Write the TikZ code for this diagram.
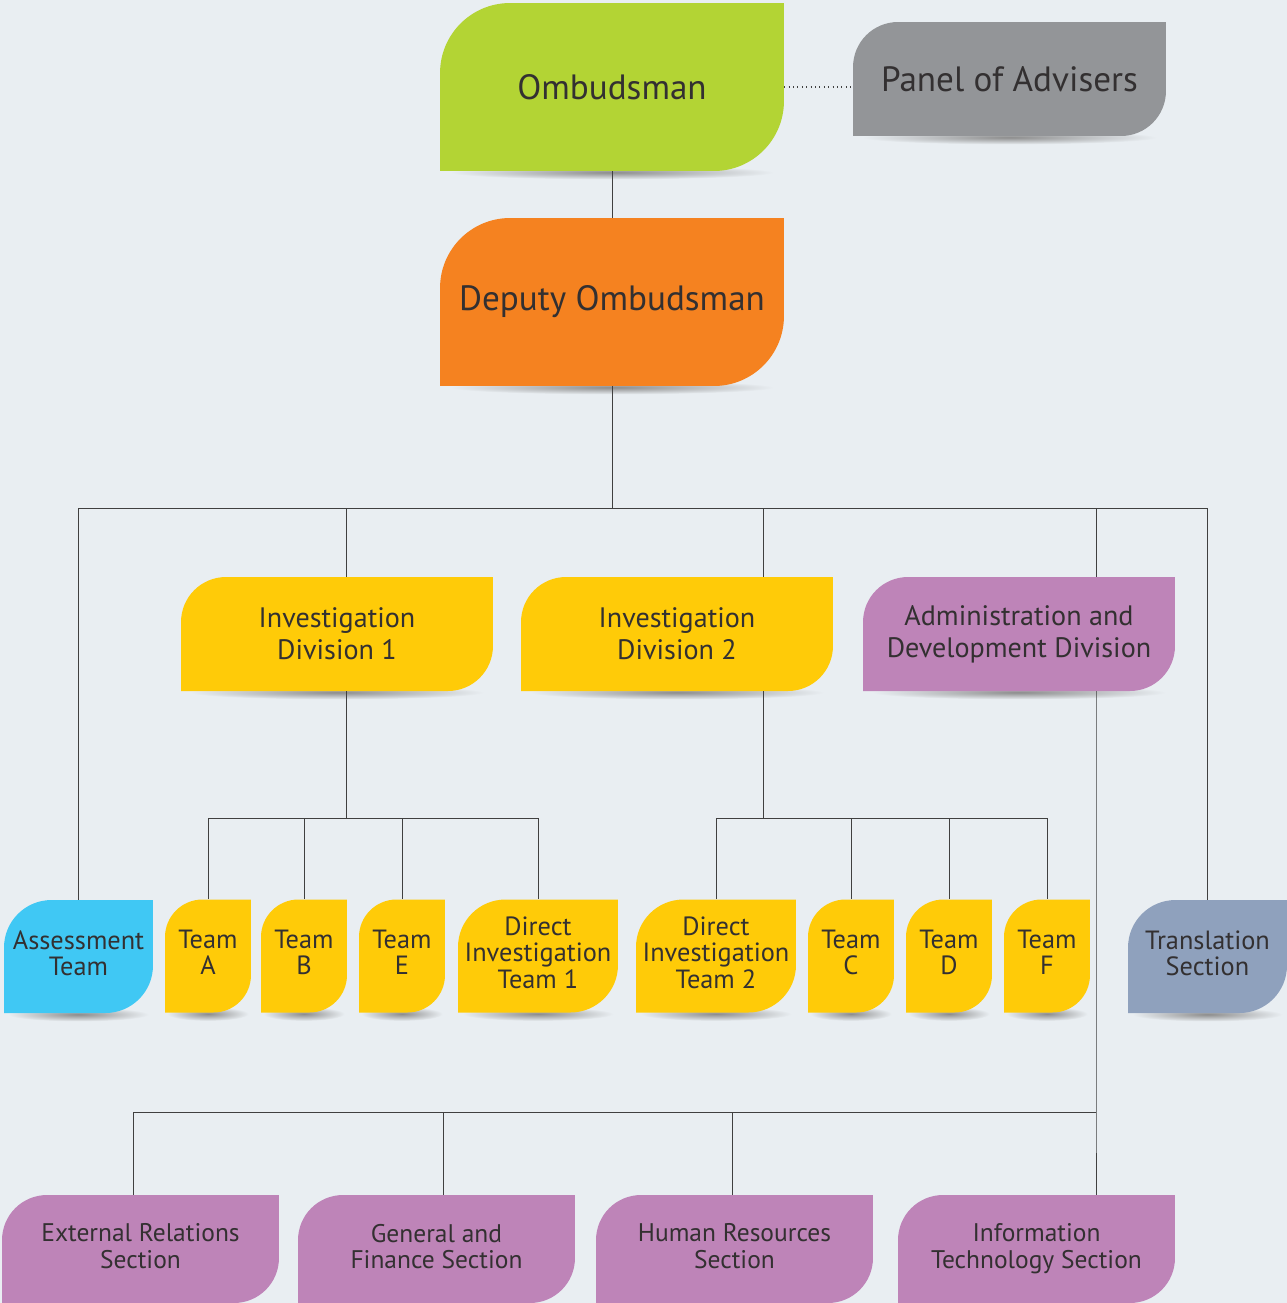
\documentclass[tikz,border=0pt]{standalone}
\usepackage{fontspec}
\setmainfont{PT Sans}
\usetikzlibrary{calc,backgrounds}

\definecolor{bgc}{HTML}{E9EEF2}
\definecolor{txt}{HTML}{333031}
\definecolor{lime}{HTML}{B3D434}
\definecolor{tang}{HTML}{F58220}
\definecolor{stone}{HTML}{939598}
\definecolor{gold}{HTML}{FFCB08}
\definecolor{mauve}{HTML}{BE84B8}
\definecolor{sky}{HTML}{40C8F4}
\definecolor{slate}{HTML}{8FA1BD}

\tikzset{
  leaf/.style 2 args={path picture={
    \fill[#1] (path picture bounding box.south west)
      -- ([yshift=-#2]path picture bounding box.north west)
      arc[start angle=180, end angle=90, radius=#2]
      -- (path picture bounding box.north east)
      -- ([yshift=#2]path picture bounding box.south east)
      arc[start angle=0, end angle=-90, radius=#2] -- cycle;}},
  box/.style={inner sep=0pt, align=center, text=txt},
  big/.style={box, leaf={#1}{1.4cm}, minimum width=6.88cm, minimum height=3.36cm,
    font=\fontsize{20}{24}\selectfont},
  panel/.style={box, leaf={stone}{0.9cm}, minimum width=6.26cm, minimum height=2.28cm,
    font=\fontsize{20}{24}\selectfont},
  division/.style={box, leaf={#1}{0.9cm}, minimum width=6.24cm, minimum height=2.28cm,
    font=\fontsize{16}{18}\selectfont},
  team/.style={box, leaf={#1}{0.75cm}, minimum width=1.72cm, minimum height=2.26cm,
    font=\fontsize{15}{15}\selectfont, text depth=4pt},
  wide/.style 2 args={box, leaf={#1}{0.95cm}, minimum width=#2, minimum height=2.26cm,
    font=\fontsize{15}{15}\selectfont, text depth=4pt},
  section/.style={box, leaf={mauve}{0.9cm}, minimum width=5.54cm, minimum height=2.16cm,
    font=\fontsize{14.5}{15.3}\selectfont, text depth=3pt},
  conn/.style={draw=black!75, line width=0.5pt}
}

\begin{document}
\begin{tikzpicture}[x=0.02cm, y=-0.02cm]

    % Page
    \useasboundingbox (0,0) rectangle (1287,1303);

    % Top of the chart
    \node[big=lime] (om) at (612,87) {Ombudsman};
    \node[panel] (pan) at (1009.5,79) {Panel of Advisers};
    \node[big=tang] (dep) at (612,302) {Deputy Ombudsman};

    % Divisions
    \node[division=gold] (inv1) at (337,634) {Investigation\\Division 1};
    \node[division=gold] (inv2) at (677,634) {Investigation\\Division 2};
    \node[division=mauve] (adm) at (1019,634) {Administration and\\Development Division};

    % Teams
    \node[wide={sky}{2.98cm}] (asm) at (78.5,956.5) {Assessment\\Team};
    \node[team=gold] (ta) at (208,956) {Team\\A};
    \node[team=gold] (tb) at (304,956) {Team\\B};
    \node[team=gold] (te) at (402,956) {Team\\E};
    \node[wide={gold}{3.2cm}] (dt1) at (538,956) {Direct\\Investigation\\Team 1};
    \node[wide={gold}{3.2cm}] (dt2) at (716,956) {Direct\\Investigation\\Team 2};
    \node[team=gold] (tc) at (851,956) {Team\\C};
    \node[team=gold] (td) at (949,956) {Team\\D};
    \node[team=gold] (tf) at (1047,956) {Team\\F};
    \node[wide={slate}{3.18cm}] (trn) at (1207.5,956.5) {Translation\\Section};

    % Sections
    \node[section] (ers) at (140.5,1249) {External Relations\\Section};
    \node[section] (gfs) at (436.5,1249) {General and\\Finance Section};
    \node[section] (hrs) at (734.5,1249) {Human Resources\\Section};
    \node[section] (its) at (1036.5,1249) {Information\\Technology Section};

    % Junctions
    \coordinate (hub) at (612,508);
    \coordinate (j1) at (346,508);
    \coordinate (j2) at (763,508);
    \coordinate (j3) at (1096,508);
    \coordinate (k1) at (346,818);
    \coordinate (k2) at (763,818);
    \coordinate (k3) at (1096,1112);
    \coordinate (m1) at (133,1112);
    \coordinate (m2) at (443,1112);
    \coordinate (m3) at (732,1112);

    % Lines
    \draw[conn, dotted, line width=0.8pt] (om.east) -- (om.east -| pan.west);
    \draw[conn] (om) -- (dep);
    \draw[conn] (dep) -- (hub);
    \draw[conn] (asm.north) -- (asm.north |- hub) -- (trn.north |- hub) -- (trn.north);
    \draw[conn] (j1) -- (j1 |- inv1.north);
    \draw[conn] (j2) -- (j2 |- inv2.north);
    \draw[conn] (j3) -- (j3 |- adm.north);

    \draw[conn] (k1 |- inv1.south) -- (k1);
    \draw[conn] (ta.north) -- (ta.north |- k1) -- (dt1.north |- k1) -- (dt1.north);
    \draw[conn] (tb.north) -- (tb.north |- k1);
    \draw[conn] (te.north) -- (te.north |- k1);

    \draw[conn] (k2 |- inv2.south) -- (k2);
    \draw[conn] (dt2.north) -- (dt2.north |- k2) -- (tf.north |- k2) -- (tf.north);
    \draw[conn] (tc.north) -- (tc.north |- k2);
    \draw[conn] (td.north) -- (td.north |- k2);

    \draw[conn] (k3 |- adm.south) -- (k3) -- (k3 |- its.north);
    \draw[conn] (k3) -- (m1) -- (m1 |- ers.north);
    \draw[conn] (m2) -- (m2 |- gfs.north);
    \draw[conn] (m3) -- (m3 |- hrs.north);

    % Backdrop and shadows
    \begin{scope}[on background layer]
      \fill[bgc] (0,0) rectangle (1287,1303);
      \foreach \b in {om,pan,dep,inv1,inv2,adm,asm,ta,tb,te,dt1,dt2,tc,td,tf,trn}
        \shade[inner color=black!45, outer color=bgc]
          let \p1=($(\b.south east)-(\b.south west)$) in
          ($(\b.south)+(0,1)$) ellipse [x radius={0.47*\x1}, y radius=4pt];
    \end{scope}
\end{tikzpicture}
\end{document}
